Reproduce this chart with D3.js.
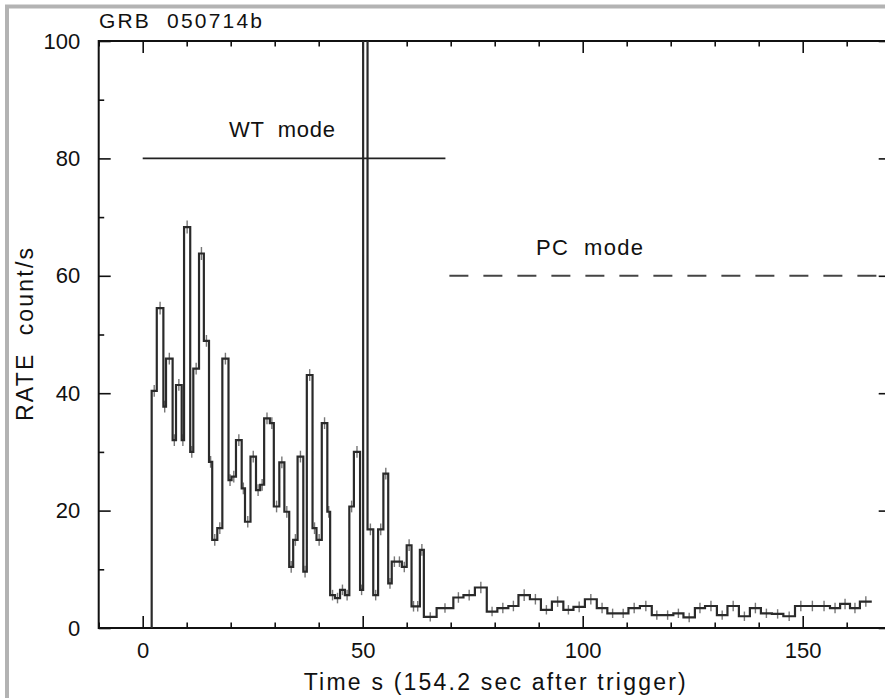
<!DOCTYPE html>
<html>
<head>
<meta charset="utf-8">
<script src="https://cdn.jsdelivr.net/npm/d3@7"></script>
<style>
  html, body { margin: 0; padding: 0; background: #fff; }
  svg { display: block; }
  text { font-family: "Liberation Sans", Arial, Helvetica, sans-serif; fill: #111; }
</style>
</head>
<body>
<svg id="chart" width="885" height="698"></svg>
<script>
// ---------- data ----------
const title = "GRB  050714b";
const xLabel = "Time s (154.2 sec after trigger)";
const yLabel = "RATE  count/s";
const xMajorTicks = [0, 50, 100, 150];
const xMinorTicks = [-10, 10, 20, 30, 40, 60, 70, 80, 90, 110, 120, 130, 140, 160, 170];
const yMajorTicks = [0, 20, 40, 60, 80, 100];
const yMinorTicks = [10, 30, 50, 70, 90];

// bin edges (s) – WT mode followed by PC mode
const binEdges = [
  2.04, 3.2, 4.7, 5.3, 6.8, 7.57, 8.86, 9.4, 10.8, 11.5, 12.8, 13.9, 15.07, 15.8, 16.95,
  18.1, 19.5, 20.2, 21.2, 22.5, 23.25, 24.5, 25.75, 26.7, 27.6, 28.9, 29.8, 31.05, 32.2,
  33.3, 34.2, 35.2, 36.5, 37.3, 38.6, 39.5, 40.7, 41.96, 42.6, 43.7, 44.85, 45.95, 46.96,
  48.0, 49.4, 50.1, 51.1, 52.4, 53.5, 54.7, 55.8, 56.6, 57.8, 58.9, 60.0, 61.1, 62.0, 63.0,
  63.9, 66.8, 70.6, 72.9, 75.5, 78.2, 80.6, 83.1, 85.4, 88.0, 90.5, 93.0, 95.6, 97.9,
  100.5, 103.2, 105.6, 108.0, 110.4, 113.0, 115.7, 118.0, 120.6, 122.9, 125.5, 127.8,
  130.5, 132.9, 135.5, 138.0, 140.5, 143.0, 145.6, 148.25, 150.9, 153.5, 156.2, 158.5,
  160.75, 163.0, 165.7
];
// count rate per bin (count/s)
const rates = [
  40.4, 54.5, 37.7, 45.9, 32.0, 41.4, 32.0, 68.3, 30.0, 44.2, 63.8, 48.9, 28.3, 15.0,
  17.0, 45.9, 25.2, 25.8, 32.0, 23.8, 18.1, 29.2, 23.5, 24.4, 35.7, 34.9, 20.7, 28.2,
  19.8, 10.4, 15.0, 29.2, 9.6, 43.1, 17.0, 15.0, 34.9, 19.8, 5.6, 5.1, 6.5, 5.6,
  20.7, 30.0, 6.5, 140, 16.8, 5.6, 16.8, 26.3, 7.6, 11.3, 11.3, 10.4, 14.1, 3.7, 3.7,
  13.3,
  1.9, 3.4, 5.2, 5.6, 6.9, 2.8, 3.4, 3.75, 5.6, 4.9, 3.1, 4.5, 3.1, 3.6, 4.9, 3.4,
  2.5, 2.5, 3.4, 3.75, 2.2, 2.2, 2.5, 1.8, 3.4, 3.75, 2.2, 3.75, 2.0, 3.4, 2.5, 2.4,
  2.0, 3.75, 3.75, 3.75, 3.4, 4.1, 3.4, 4.5
];
// 1-sigma errors per bin (count/s)
const rateErr = [
  1.0, 1.1, 1.0, 1.0, 1.0, 1.0, 1.0, 1.1, 1.0, 1.0, 1.1, 1.0, 1.0, 1.0,
  1.0, 1.0, 1.0, 1.0, 1.0, 1.0, 1.0, 1.0, 1.0, 1.0, 1.0, 1.0, 1.0, 1.0,
  1.0, 1.0, 1.0, 1.0, 1.0, 1.0, 1.0, 1.0, 1.0, 1.0, 0.9, 0.9, 0.9, 0.9,
  1.0, 1.0, 0.9, 1.0, 1.0, 0.9, 1.0, 1.0, 0.9, 0.9, 0.9, 0.9, 1.0, 0.9, 0.9,
  1.0,
  0.8, 0.8, 0.9, 0.9, 1.0, 0.8, 0.9, 0.9, 1.0, 0.9, 0.8, 0.9, 0.8, 0.9, 0.9, 0.9,
  0.8, 0.8, 0.9, 0.9, 0.8, 0.8, 0.8, 0.8, 0.9, 0.9, 0.8, 0.9, 0.8, 0.9, 0.8, 0.8,
  0.8, 0.9, 0.9, 0.9, 0.9, 0.9, 0.9, 0.9
];
// mode annotations
const wtLine = { x0: 0, x1: 68.8, y: 80, label: "WT  mode", labelX: 19.6, labelY: 83.6 };
const pcLine = { x0: 69.7, x1: 175, y: 60, label: "PC  mode", labelX: 89.4, labelY: 63.5 };

// ---------- layout ----------
const svg = d3.select("#chart");
const plot = { left: 98.7, right: 890.7, top: 41, bottom: 628 };
const x = d3.scaleLinear().domain([-10, 170]).range([plot.left, plot.right]);
const y = d3.scaleLinear().domain([0, 100]).range([plot.bottom, plot.top]);

// outer gray frame (partially visible)
svg.append("line").attr("x1", 5).attr("x2", 885).attr("y1", 6.5).attr("y2", 6.5)
  .attr("stroke", "#b3b3b3").attr("stroke-width", 4);
svg.append("line").attr("x1", 7).attr("x2", 7).attr("y1", 5).attr("y2", 698)
  .attr("stroke", "#b3b3b3").attr("stroke-width", 4);

svg.append("defs").append("clipPath").attr("id", "clip")
  .append("rect").attr("x", plot.left).attr("y", plot.top)
  .attr("width", plot.right - plot.left).attr("height", plot.bottom - plot.top);

// ---------- axes ----------
function styleAxis(g) {
  g.select(".domain").remove();
  g.selectAll(".tick line").attr("stroke", "#111").attr("stroke-width", 1.6);
  g.selectAll(".tick text").style("font-size", "22px").attr("fill", "#111");
}
svg.append("g").attr("transform", `translate(0,${plot.bottom})`)
  .call(d3.axisBottom(x).tickValues(xMajorTicks).tickSize(-12).tickPadding(14.5).tickFormat(d3.format("d")))
  .call(styleAxis);
svg.append("g").attr("transform", `translate(0,${plot.bottom})`)
  .call(d3.axisBottom(x).tickValues(xMinorTicks).tickSize(-5.5).tickFormat(""))
  .call(styleAxis);
svg.append("g").attr("transform", `translate(0,${plot.top})`)
  .call(d3.axisTop(x).tickValues(xMajorTicks).tickSize(-12).tickFormat(""))
  .call(styleAxis);
svg.append("g").attr("transform", `translate(0,${plot.top})`)
  .call(d3.axisTop(x).tickValues(xMinorTicks).tickSize(-5.5).tickFormat(""))
  .call(styleAxis);
svg.append("g").attr("transform", `translate(${plot.left},0)`)
  .call(d3.axisLeft(y).tickValues(yMajorTicks).tickSize(-12).tickPadding(18.5).tickFormat(d3.format("d")))
  .call(styleAxis);
svg.append("g").attr("transform", `translate(${plot.left},0)`)
  .call(d3.axisLeft(y).tickValues(yMinorTicks).tickSize(-5.5).tickFormat(""))
  .call(styleAxis);
svg.append("g").attr("transform", `translate(${plot.right},0)`)
  .call(d3.axisRight(y).tickValues(yMajorTicks).tickSize(-12).tickFormat(""))
  .call(styleAxis);
svg.append("g").attr("transform", `translate(${plot.right},0)`)
  .call(d3.axisRight(y).tickValues(yMinorTicks).tickSize(-5.5).tickFormat(""))
  .call(styleAxis);

// frame
svg.append("rect").attr("x", plot.left).attr("y", plot.top)
  .attr("width", plot.right - plot.left).attr("height", plot.bottom - plot.top)
  .attr("fill", "none").attr("stroke", "#111").attr("stroke-width", 2);

// ---------- data ----------
const bins = rates.map((r, i) => ({ x0: binEdges[i], x1: binEdges[i + 1], r, e: rateErr[i] }));
const stepPts = [[binEdges[0], 0]];
bins.forEach(b => { stepPts.push([b.x0, b.r]); stepPts.push([b.x1, b.r]); });

const dataG = svg.append("g").attr("clip-path", "url(#clip)");
// error bars (gray)
dataG.selectAll("line.err").data(bins).join("line").attr("class", "err")
  .attr("x1", d => x((d.x0 + d.x1) / 2)).attr("x2", d => x((d.x0 + d.x1) / 2))
  .attr("y1", d => y(d.r - d.e)).attr("y2", d => y(d.r + d.e))
  .attr("stroke", "#777").attr("stroke-width", 1.4);
dataG.append("path").datum(stepPts)
  .attr("d", d3.line().x(d => x(d[0])).y(d => y(d[1])))
  .attr("fill", "none").attr("stroke", "#2a2a2a").attr("stroke-width", 2.2);

// mode lines
svg.append("line").attr("x1", x(wtLine.x0)).attr("x2", x(wtLine.x1))
  .attr("y1", y(wtLine.y)).attr("y2", y(wtLine.y))
  .attr("stroke", "#222").attr("stroke-width", 1.6);
svg.append("g").attr("clip-path", "url(#clip)").append("line")
  .attr("x1", x(pcLine.x0)).attr("x2", x(pcLine.x1))
  .attr("y1", y(pcLine.y)).attr("y2", y(pcLine.y))
  .attr("stroke", "#444").attr("stroke-width", 2).attr("stroke-dasharray", "19 15");

svg.append("text").attr("x", x(wtLine.labelX)).attr("y", y(wtLine.labelY))
  .style("font-size", "22px").style("white-space", "pre")
  .attr("textLength", 106).attr("lengthAdjust", "spacing").text(wtLine.label);
svg.append("text").attr("x", x(pcLine.labelX)).attr("y", y(pcLine.labelY))
  .style("font-size", "22px").style("white-space", "pre")
  .attr("textLength", 107).attr("lengthAdjust", "spacing").text(pcLine.label);

// ---------- titles ----------
svg.append("text").attr("x", 99).attr("y", 28)
  .style("font-size", "21px").style("white-space", "pre")
  .attr("textLength", 163).attr("lengthAdjust", "spacing")
  .text(title);
svg.append("text").attr("x", (plot.left + plot.right) / 2).attr("y", 690)
  .attr("text-anchor", "middle").style("font-size", "23px")
  .attr("textLength", 382).attr("lengthAdjust", "spacing").text(xLabel);
svg.append("text").attr("transform", `translate(33,${(plot.top + plot.bottom) / 2}) rotate(-90)`)
  .attr("text-anchor", "middle").style("font-size", "23px").style("white-space", "pre")
  .attr("textLength", 173).attr("lengthAdjust", "spacing").text(yLabel);
</script>
</body>
</html>
